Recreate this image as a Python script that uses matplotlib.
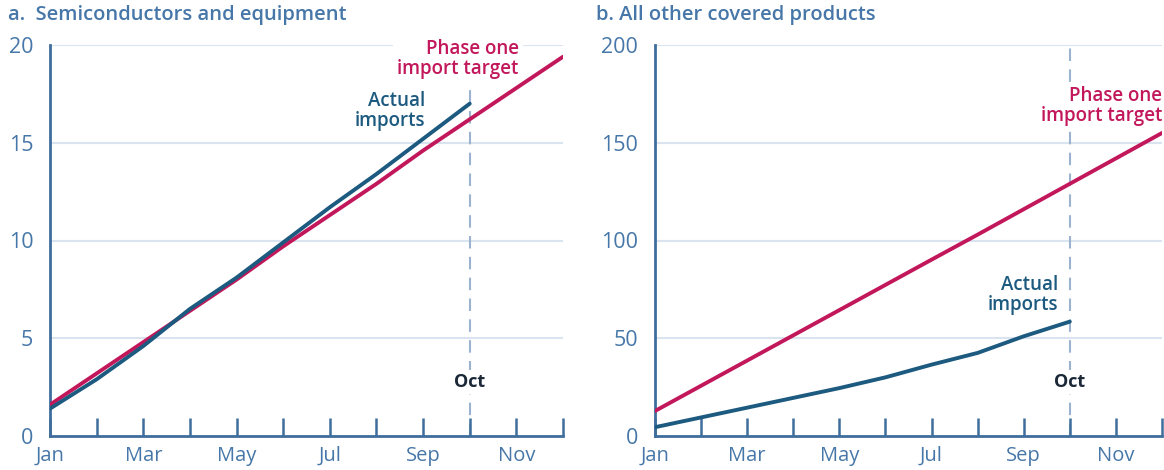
import matplotlib.pyplot as plt

months = ["Jan", "Feb", "Mar", "Apr", "May", "Jun", "Jul", "Aug", "Sep", "Oct", "Nov", "Dec"]
month_labels = ["Jan", "", "Mar", "", "May", "", "Jul", "", "Sep", "", "Nov", ""]

# panel a: semiconductors and equipment (billions)
semi_actual = [1.4, 2.9, 4.6, 6.5, 8.1, 9.9, 11.7, 13.4, 15.2, 17.0]
semi_target = [1.6, 3.2, 4.8, 6.4, 8.0, 9.7, 11.3, 12.9, 14.6, 16.2, 17.8, 19.4]

# panel b: all other covered products
other_actual = [4.5, 9.5, 14.5, 19.5, 24.5, 30.0, 36.5, 42.5, 51.0, 58.5]
other_target = [12.8, 25.7, 38.6, 51.5, 64.4, 77.3, 90.2, 103.0, 116.0, 129.0, 142.0, 155.0]

RED = "#c2185b"
TEAL = "#1d5a80"
AXIS = "#3f6e9c"
TXT = "#4677a8"
GRID = "#d9e4f0"
DASH = "#9cb3cf"

plt.rcParams["font.family"] = ["Open Sans", "DejaVu Sans"]

fig = plt.figure(figsize=(11.64, 4.70), dpi=100)
ax1 = fig.add_axes([50 / 1164, 34 / 470, 513 / 1164, 391 / 470])
ax2 = fig.add_axes([655 / 1164, 34 / 470, 507 / 1164, 391 / 470])


def style(ax, ymax, step):
    x = list(range(len(months)))
    ax.set_xlim(0, 11)
    ax.set_ylim(0, ymax)
    ax.set_xticks(x)
    ax.set_xticklabels(month_labels)
    ax.set_yticks(range(0, ymax + 1, step))
    for v in range(step, ymax + 1, step):
        ax.axhline(v, color=GRID, lw=1.5, zorder=0)
    for s in ["top", "right"]:
        ax.spines[s].set_visible(False)
    for s in ["left", "bottom"]:
        ax.spines[s].set_color(AXIS)
        ax.spines[s].set_linewidth(2)
    ax.tick_params(axis="x", direction="in", length=13, width=1.8, color=AXIS,
                   labelcolor=TXT, labelsize=14.5, pad=7)
    ax.tick_params(axis="y", length=0, labelcolor=TXT, labelsize=15.5, pad=12)
    ax.axvline(9, color=DASH, lw=1.5, ls=(0, (6, 4)), zorder=1)
    ax.text(9, ymax * 0.138, "Oct", ha="center", va="center", fontsize=13,
            fontweight="bold", color="#1b2838",
            bbox=dict(facecolor="white", edgecolor="none", pad=2), zorder=2)


style(ax1, 20, 5)
style(ax2, 200, 50)

ax1.plot(range(len(semi_target)), semi_target, color=RED, lw=2.8, zorder=3,
         solid_capstyle="round")
ax1.plot(range(len(semi_actual)), semi_actual, color=TEAL, lw=2.8, zorder=4,
         solid_capstyle="round")
ax2.plot(range(len(other_target)), other_target, color=RED, lw=2.8, zorder=3,
         solid_capstyle="round")
ax2.plot(range(len(other_actual)), other_actual, color=TEAL, lw=2.8, zorder=4,
         solid_capstyle="round")

ax1.text(10.05, 19.3, "Phase one\nimport target", ha="right", va="center", fontsize=13.5,
         color=RED, fontweight="semibold", linespacing=1.0,
         bbox=dict(facecolor="white", edgecolor="none", pad=3), zorder=2)
ax1.text(8.05, 16.6, "Actual\nimports", ha="right", va="center", fontsize=13.5,
         color=TEAL, fontweight="semibold", linespacing=1.0, zorder=2)
ax2.text(11, 169, "Phase one\nimport target", ha="right", va="center", fontsize=13.5,
         color=RED, fontweight="semibold", linespacing=1.0,
         bbox=dict(facecolor="white", edgecolor="none", pad=2), zorder=2)
ax2.text(8.75, 72, "Actual\nimports", ha="right", va="center", fontsize=13.5,
         color=TEAL, fontweight="semibold", linespacing=1.0, zorder=2)

fig.text(8 / 1164, 1 - 15 / 470, "a.  Semiconductors and equipment", ha="left", va="center",
         fontsize=14.5, color=TXT, fontweight="semibold")
fig.text(596 / 1164, 1 - 15 / 470, "b. All other covered products", ha="left", va="center",
         fontsize=14.5, color=TXT, fontweight="semibold")

fig.savefig("out.png", dpi=100)
